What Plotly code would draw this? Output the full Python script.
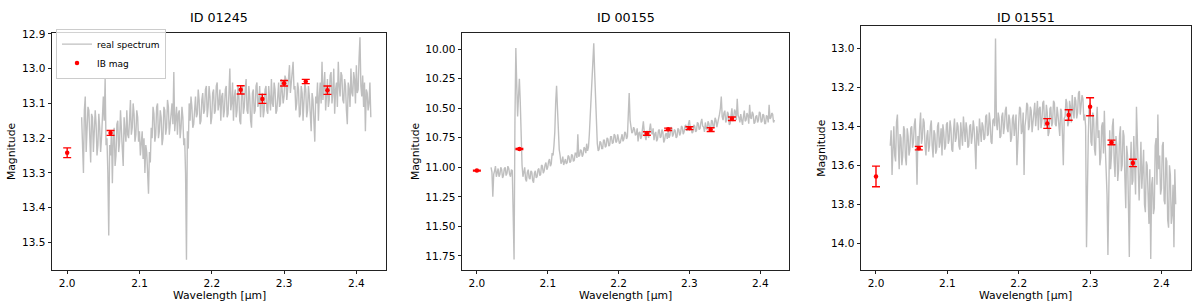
import plotly.graph_objects as go

# ---------------- data ----------------
wavelength_um = [
    2.02000, 2.02125, 2.02250, 2.02375, 2.02500, 2.02625, 2.02750, 2.02875, 2.03000, 2.03125,
    2.03250, 2.03375, 2.03500, 2.03625, 2.03750, 2.03875, 2.04000, 2.04125, 2.04250, 2.04375,
    2.04500, 2.04625, 2.04750, 2.04875, 2.05000, 2.05125, 2.05250, 2.05375, 2.05500, 2.05625,
    2.05750, 2.05875, 2.06000, 2.06125, 2.06250, 2.06375, 2.06500, 2.06625, 2.06750, 2.06875,
    2.07000, 2.07125, 2.07250, 2.07375, 2.07500, 2.07625, 2.07750, 2.07875, 2.08000, 2.08125,
    2.08250, 2.08375, 2.08500, 2.08625, 2.08750, 2.08875, 2.09000, 2.09125, 2.09250, 2.09375,
    2.09500, 2.09625, 2.09750, 2.09875, 2.10000, 2.10125, 2.10250, 2.10375, 2.10500, 2.10625,
    2.10750, 2.10875, 2.11000, 2.11125, 2.11250, 2.11375, 2.11500, 2.11625, 2.11750, 2.11875,
    2.12000, 2.12125, 2.12250, 2.12375, 2.12500, 2.12625, 2.12750, 2.12875, 2.13000, 2.13125,
    2.13250, 2.13375, 2.13500, 2.13625, 2.13750, 2.13875, 2.14000, 2.14125, 2.14250, 2.14375,
    2.14500, 2.14625, 2.14750, 2.14875, 2.15000, 2.15125, 2.15250, 2.15375, 2.15500, 2.15625,
    2.15750, 2.15875, 2.16000, 2.16125, 2.16250, 2.16375, 2.16500, 2.16625, 2.16750, 2.16875,
    2.17000, 2.17125, 2.17250, 2.17375, 2.17500, 2.17625, 2.17750, 2.17875, 2.18000, 2.18125,
    2.18250, 2.18375, 2.18500, 2.18625, 2.18750, 2.18875, 2.19000, 2.19125, 2.19250, 2.19375,
    2.19500, 2.19625, 2.19750, 2.19875, 2.20000, 2.20125, 2.20250, 2.20375, 2.20500, 2.20625,
    2.20750, 2.20875, 2.21000, 2.21125, 2.21250, 2.21375, 2.21500, 2.21625, 2.21750, 2.21875,
    2.22000, 2.22125, 2.22250, 2.22375, 2.22500, 2.22625, 2.22750, 2.22875, 2.23000, 2.23125,
    2.23250, 2.23375, 2.23500, 2.23625, 2.23750, 2.23875, 2.24000, 2.24125, 2.24250, 2.24375,
    2.24500, 2.24625, 2.24750, 2.24875, 2.25000, 2.25125, 2.25250, 2.25375, 2.25500, 2.25625,
    2.25750, 2.25875, 2.26000, 2.26125, 2.26250, 2.26375, 2.26500, 2.26625, 2.26750, 2.26875,
    2.27000, 2.27125, 2.27250, 2.27375, 2.27500, 2.27625, 2.27750, 2.27875, 2.28000, 2.28125,
    2.28250, 2.28375, 2.28500, 2.28625, 2.28750, 2.28875, 2.29000, 2.29125, 2.29250, 2.29375,
    2.29500, 2.29625, 2.29750, 2.29875, 2.30000, 2.30125, 2.30250, 2.30375, 2.30500, 2.30625,
    2.30750, 2.30875, 2.31000, 2.31125, 2.31250, 2.31375, 2.31500, 2.31625, 2.31750, 2.31875,
    2.32000, 2.32125, 2.32250, 2.32375, 2.32500, 2.32625, 2.32750, 2.32875, 2.33000, 2.33125,
    2.33250, 2.33375, 2.33500, 2.33625, 2.33750, 2.33875, 2.34000, 2.34125, 2.34250, 2.34375,
    2.34500, 2.34625, 2.34750, 2.34875, 2.35000, 2.35125, 2.35250, 2.35375, 2.35500, 2.35625,
    2.35750, 2.35875, 2.36000, 2.36125, 2.36250, 2.36375, 2.36500, 2.36625, 2.36750, 2.36875,
    2.37000, 2.37125, 2.37250, 2.37375, 2.37500, 2.37625, 2.37750, 2.37875, 2.38000, 2.38125,
    2.38250, 2.38375, 2.38500, 2.38625, 2.38750, 2.38875, 2.39000, 2.39125, 2.39250, 2.39375,
    2.39500, 2.39625, 2.39750, 2.39875, 2.40000, 2.40125, 2.40250, 2.40375, 2.40500, 2.40625,
    2.40750, 2.40875, 2.41000, 2.41125, 2.41250, 2.41375, 2.41500, 2.41625, 2.41750, 2.41875,
    2.42000,
]

spec_01245 = [
    13.14, 13.22, 13.30, 13.12, 13.08, 13.24, 13.18, 13.11, 13.12, 13.20,
    13.27, 13.13, 13.14, 13.24, 13.19, 13.12, 13.16, 13.25, 13.22, 13.13,
    13.17, 13.24, 13.20, 13.11, 13.08, 13.15, 13.03, 13.22, 13.20, 13.30,
    13.48, 13.22, 13.25, 13.18, 13.33, 13.20, 13.17, 13.28, 13.25, 13.16,
    13.15, 13.24, 13.21, 13.12, 13.16, 13.23, 13.28, 13.14, 13.18, 13.21,
    13.12, 13.19, 13.20, 13.11, 13.09, 13.19, 13.17, 13.10, 13.13, 13.21,
    13.19, 13.12, 13.14, 13.21, 13.18, 13.25, 13.22, 13.18, 13.26, 13.20,
    13.30, 13.22, 13.24, 13.32, 13.36, 13.24, 13.27, 13.17, 13.20, 13.11,
    13.13, 13.21, 13.19, 13.11, 13.10, 13.20, 13.18, 13.12, 13.14, 13.22,
    13.20, 13.11, 13.12, 13.19, 13.17, 13.09, 13.11, 13.19, 13.16, 13.12,
    13.10, 13.16, 13.01, 13.18, 13.15, 13.11, 13.19, 13.13, 13.12, 13.20,
    13.17, 13.11, 13.14, 13.22, 13.20, 13.30, 13.55, 13.18, 13.23, 13.10,
    13.15, 13.08, 13.11, 13.17, 13.16, 13.10, 13.08, 13.14, 13.13, 13.06,
    13.09, 13.16, 13.15, 13.09, 13.07, 13.13, 13.12, 13.06, 13.05, 13.14,
    13.11, 13.05, 13.08, 13.16, 13.14, 13.07, 13.06, 13.13, 13.12, 13.05,
    13.04, 13.12, 13.10, 13.06, 13.15, 13.08, 13.07, 13.14, 13.12, 13.06,
    13.05, 13.14, 13.13, 13.07, 13.00, 13.12, 13.10, 13.04, 13.15, 13.08,
    13.06, 13.14, 13.12, 13.05, 13.08, 13.15, 13.16, 13.07, 13.05, 13.13,
    13.11, 13.06, 13.03, 13.12, 13.13, 13.05, 13.08, 13.15, 13.17, 13.07,
    13.06, 13.13, 13.12, 13.05, 13.04, 13.11, 13.10, 13.05, 13.14, 13.08,
    13.07, 13.14, 13.12, 13.06, 13.05, 13.12, 13.13, 13.05, 13.08, 13.12,
    13.03, 13.10, 13.11, 13.04, 13.06, 13.13, 13.12, 13.06, 13.04, 13.11,
    13.10, 13.03, 13.06, 13.10, 13.08, 13.02, 13.03, 13.09, 13.06, 13.02,
    12.99, 13.07, 13.04, 13.00, 12.98, 13.06, 13.05, 13.12, 13.10, 13.04,
    13.06, 13.14, 13.13, 13.05, 13.07, 13.15, 13.11, 13.04, 13.06, 13.14,
    13.12, 13.05, 13.08, 13.13, 13.18, 13.07, 13.09, 13.15, 13.21, 13.08,
    13.10, 13.04, 13.15, 13.08, 13.04, 13.10, 12.98, 13.09, 13.06, 13.01,
    13.12, 13.05, 13.03, 13.11, 13.09, 13.02, 13.01, 13.10, 13.07, 13.00,
    13.13, 13.06, 13.04, 13.11, 12.98, 13.05, 13.08, 13.01, 13.02, 13.09,
    13.10, 13.03, 13.05, 13.12, 13.16, 13.04, 13.06, 13.11, 13.00, 13.07,
    13.08, 13.01, 13.03, 13.10, 12.99, 13.07, 13.06, 12.97, 12.91, 13.05,
    13.08, 13.02, 13.11, 13.04, 13.18, 13.06, 13.07, 13.12, 13.10, 13.04,
    13.14,
]

spec_00155 = [
    11.00, 11.04, 11.25, 11.06, 11.03, 10.99, 11.08, 11.02, 11.01, 11.08,
    11.06, 11.00, 11.02, 11.09, 11.07, 11.01, 11.00, 11.07, 11.05, 10.99,
    11.01, 11.06, 11.08, 11.02, 11.03, 11.40, 11.78, 10.60, 9.99, 10.30,
    10.57, 10.40, 10.25, 10.45, 10.75, 10.98, 11.08, 11.03, 11.00, 11.10,
    11.12, 11.04, 11.02, 11.09, 11.10, 11.03, 11.04, 11.11, 11.13, 11.05,
    11.03, 11.09, 11.08, 11.02, 11.01, 11.07, 11.06, 10.98, 10.99, 11.05,
    11.03, 10.98, 10.96, 11.02, 11.00, 10.95, 10.93, 10.99, 10.97, 10.88,
    10.90, 10.82, 10.70, 10.45, 10.31, 10.50, 10.70, 10.85, 10.90, 10.97,
    10.95, 10.91, 10.98, 10.94, 10.93, 10.97, 10.96, 10.90, 10.91, 10.96,
    10.95, 10.89, 10.90, 10.95, 10.94, 10.88, 10.88, 10.92, 10.72, 10.91,
    10.90, 10.85, 10.86, 10.91, 10.89, 10.83, 10.84, 10.88, 10.80, 10.86,
    10.83, 10.72, 10.55, 10.42, 10.30, 10.10, 9.95, 10.20, 10.40, 10.65,
    10.80, 10.86, 10.85, 10.78, 10.79, 10.84, 10.84, 10.77, 10.77, 10.83,
    10.82, 10.75, 10.76, 10.82, 10.81, 10.74, 10.74, 10.80, 10.79, 10.72,
    10.73, 10.79, 10.78, 10.72, 10.75, 10.80, 10.79, 10.73, 10.72, 10.78,
    10.76, 10.70, 10.71, 10.76, 10.74, 10.55, 10.37, 10.60, 10.66, 10.71,
    10.70, 10.66, 10.68, 10.73, 10.72, 10.67, 10.78, 10.71, 10.70, 10.76,
    10.74, 10.66, 10.61, 10.70, 10.73, 10.77, 10.69, 10.74, 10.75, 10.68,
    10.63, 10.70, 10.72, 10.67, 10.77, 10.72, 10.70, 10.78, 10.76, 10.69,
    10.68, 10.75, 10.74, 10.68, 10.70, 10.79, 10.77, 10.72, 10.71, 10.76,
    10.69, 10.75, 10.73, 10.66, 10.67, 10.74, 10.72, 10.68, 10.69, 10.75,
    10.74, 10.67, 10.68, 10.73, 10.71, 10.65, 10.66, 10.72, 10.70, 10.65,
    10.64, 10.69, 10.68, 10.63, 10.60, 10.67, 10.66, 10.71, 10.70, 10.64,
    10.65, 10.70, 10.69, 10.62, 10.63, 10.68, 10.67, 10.62, 10.59, 10.65,
    10.66, 10.70, 10.62, 10.67, 10.68, 10.61, 10.63, 10.69, 10.67, 10.60,
    10.61, 10.67, 10.65, 10.58, 10.60, 10.66, 10.63, 10.59, 10.55, 10.50,
    10.40, 10.57, 10.60, 10.54, 10.52, 10.62, 10.60, 10.53, 10.55, 10.64,
    10.63, 10.56, 10.50, 10.61, 10.58, 10.51, 10.53, 10.60, 10.42, 10.56,
    10.58, 10.62, 10.55, 10.60, 10.64, 10.57, 10.52, 10.61, 10.60, 10.54,
    10.56, 10.63, 10.47, 10.58, 10.59, 10.53, 10.55, 10.63, 10.62, 10.57,
    10.56, 10.62, 10.60, 10.53, 10.54, 10.62, 10.61, 10.55, 10.56, 10.63,
    10.63, 10.56, 10.57, 10.62, 10.47, 10.59, 10.58, 10.54, 10.55, 10.62,
    10.60,
]

spec_01551 = [
    13.50, 13.42, 13.65, 13.45, 13.40, 13.55, 13.58, 13.38, 13.34, 13.50,
    13.62, 13.44, 13.46, 13.60, 13.55, 13.40, 13.42, 13.56, 13.60, 13.41,
    13.45, 13.55, 13.52, 13.41, 13.40, 13.51, 13.48, 13.39, 13.36, 13.50,
    13.70, 13.45, 13.52, 13.40, 13.33, 13.49, 13.46, 13.36, 13.38, 13.50,
    13.55, 13.45, 13.42, 13.53, 13.50, 13.40, 13.37, 13.50, 13.56, 13.42,
    13.44, 13.54, 13.52, 13.40, 13.38, 13.51, 13.48, 13.41, 13.55, 13.39,
    13.43, 13.52, 13.50, 13.39, 13.38, 13.49, 13.47, 13.37, 13.41, 13.52,
    13.53, 13.42, 13.36, 13.48, 13.46, 13.38, 13.40, 13.50, 13.52, 13.38,
    13.44, 13.50, 13.35, 13.46, 13.48, 13.38, 13.42, 13.51, 13.50, 13.40,
    13.39, 13.49, 13.45, 13.37, 13.41, 13.50, 13.62, 13.40, 13.44, 13.50,
    13.36, 13.44, 13.48, 13.38, 13.40, 13.47, 13.46, 13.35, 13.34, 13.45,
    13.44, 13.33, 13.38, 13.48, 13.49, 13.37, 13.36, 13.40, 12.95, 13.38,
    13.42, 13.33, 13.36, 13.46, 13.45, 13.35, 13.33, 13.44, 13.40, 13.32,
    13.30, 13.41, 13.43, 13.34, 13.37, 13.48, 13.46, 13.36, 13.34, 13.45,
    13.41, 13.34, 13.60, 13.42, 13.38, 13.30, 13.31, 13.44, 13.42, 13.33,
    13.65, 13.40, 13.36, 13.28, 13.29, 13.42, 13.40, 13.30, 13.32, 13.43,
    13.38, 13.30, 13.28, 13.40, 13.35, 13.27, 13.42, 13.31, 13.30, 13.41,
    13.37, 13.28, 13.27, 13.40, 13.39, 13.29, 13.33, 13.45, 13.43, 13.31,
    13.30, 13.40, 13.38, 13.27, 13.28, 13.39, 13.40, 13.30, 13.34, 13.42,
    13.45, 13.31, 13.32, 13.44, 13.60, 13.36, 13.35, 13.26, 13.28, 13.40,
    13.38, 13.27, 13.30, 13.38, 13.24, 13.32, 13.36, 13.25, 13.27, 13.36,
    13.33, 13.23, 13.22, 13.34, 13.30, 13.24, 13.26, 13.37, 13.34, 13.40,
    14.02, 13.60, 13.45, 13.30, 13.28, 13.48, 13.50, 13.33, 13.36, 13.52,
    13.55, 13.38, 13.30, 13.46, 13.42, 13.60, 13.56, 13.40, 13.38, 13.54,
    13.32, 13.50, 13.60, 13.75, 14.06, 13.55, 13.42, 13.62, 13.55, 13.40,
    13.36, 13.58, 13.66, 13.45, 13.50, 13.68, 13.62, 13.45, 13.40, 13.63,
    13.60, 13.42, 13.45, 13.66, 13.82, 13.50, 13.55, 13.80, 14.07, 13.62,
    13.48, 13.70, 13.68, 13.45, 13.56, 13.75, 13.30, 13.55, 13.62, 13.78,
    13.58, 13.48, 13.72, 13.55, 13.52, 13.80, 13.84, 13.58, 13.60, 13.75,
    13.90, 13.62, 14.08, 13.70, 13.66, 13.85, 13.82, 13.50, 13.46, 13.70,
    13.34, 13.62, 13.55, 13.75, 13.72, 13.50, 13.48, 13.78, 13.80, 13.56,
    13.58, 13.88, 13.92, 13.60, 13.65, 13.90, 13.85, 13.70, 14.02, 13.62,
    13.80,
]

ib_wavelength_um = [2.00, 2.06, 2.24, 2.27, 2.30, 2.33, 2.36]

ib_01245 = [13.242, 13.185, 13.061, 13.087, 13.042, 13.037, 13.062]
ib_err_01245 = [0.014, 0.007, 0.012, 0.013, 0.008, 0.006, 0.012]

ib_00155 = [11.028, 10.845, 10.714, 10.678, 10.669, 10.681, 10.589]
ib_err_00155 = [0.004, 0.004, 0.015, 0.010, 0.012, 0.016, 0.015]

ib_01551 = [13.657, 13.512, 13.386, 13.342, 13.300, 13.483, 13.588]
ib_err_01551 = [0.053, 0.009, 0.025, 0.027, 0.046, 0.012, 0.019]

panel_titles = ["ID 01245", "ID 00155", "ID 01551"]
x_tick_vals = [2.0, 2.1, 2.2, 2.3, 2.4]
y_ticks_01245 = [12.9, 13.0, 13.1, 13.2, 13.3, 13.4, 13.5]
y_ticks_00155 = [10.00, 10.25, 10.50, 10.75, 11.00, 11.25, 11.50, 11.75]
y_ticks_01551 = [13.0, 13.2, 13.4, 13.6, 13.8, 14.0]

# ---------------- figure ----------------
W, H = 1200, 307
FONT = "DejaVu Sans"
SPEC_COLOR = "#bfbfbf"
RED = "#ff0000"

panels = [
    dict(spec=spec_01245, ib=ib_01245, err=ib_err_01245, yt=y_ticks_01245, yfmt=".1f",
         xpx=(52, 386), ypx=(28.3, 269.3), yr=(13.579, 12.897)),
    dict(spec=spec_00155, ib=ib_00155, err=ib_err_00155, yt=y_ticks_00155, yfmt=".2f",
         xpx=(462, 789.3), ypx=(28.3, 269.3), yr=(11.869, 9.861)),
    dict(spec=spec_01551, ib=ib_01551, err=ib_err_01551, yt=y_ticks_01551, yfmt=".1f",
         xpx=(861, 1190.7), ypx=(21.7, 269.3), yr=(14.136, 12.888)),
]
ylabel_x_px = [11.7, 415.7, 820.7]

fig = go.Figure()
annotations = []
layout_axes = {}

for k, p in enumerate(panels):
    n = "" if k == 0 else str(k + 1)
    xa, ya = "x" + n, "y" + n
    fig.add_trace(go.Scatter(
        x=wavelength_um, y=p["spec"], mode="lines", name="real spectrum",
        line=dict(color=SPEC_COLOR, width=1.4), xaxis=xa, yaxis=ya,
        showlegend=(k == 0), hoverinfo="skip",
    ))
    fig.add_trace(go.Scatter(
        x=ib_wavelength_um, y=p["ib"], mode="markers", name="IB mag",
        marker=dict(color=RED, size=4.5),
        error_y=dict(type="data", array=p["err"], visible=True, color=RED,
                     thickness=1.4, width=4),
        xaxis=xa, yaxis=ya, showlegend=(k == 0),
    ))
    x0, x1 = p["xpx"][0] / W, p["xpx"][1] / W
    y0, y1 = (H - p["ypx"][1]) / H, (H - p["ypx"][0]) / H
    common = dict(showline=True, linecolor="#222222", linewidth=1, mirror=True,
                  ticks="outside", ticklen=3.5, tickwidth=1, tickcolor="#222222",
                  showgrid=False, zeroline=False,
                  tickfont=dict(family=FONT, size=10.5, color="black"))
    layout_axes["xaxis" + n] = dict(domain=[x0, x1], range=[1.979, 2.441],
                                    tickvals=x_tick_vals, tickformat=".1f",
                                    anchor=ya, **common)
    layout_axes["yaxis" + n] = dict(domain=[y0, y1], range=list(p["yr"]),
                                    tickvals=p["yt"], tickformat=p["yfmt"],
                                    anchor=xa, **common)
    cx = (p["xpx"][0] + p["xpx"][1]) / 2 / W
    annotations.append(dict(text=panel_titles[k], x=cx, y=(H - 12.7) / H,
                            xref="paper", yref="paper", showarrow=False,
                            xanchor="center", yanchor="middle",
                            font=dict(family=FONT, size=12.7, color="black")))
    annotations.append(dict(text="Wavelength [µm]", x=cx, y=(H - 295) / H,
                            xref="paper", yref="paper", showarrow=False,
                            xanchor="center", yanchor="middle",
                            font=dict(family=FONT, size=10.8, color="black")))
    cy = (H - (p["ypx"][0] + p["ypx"][1]) / 2) / H
    annotations.append(dict(text="Magnitude", x=ylabel_x_px[k] / W, y=cy,
                            xref="paper", yref="paper", showarrow=False,
                            textangle=-90, xanchor="center", yanchor="middle",
                            font=dict(family=FONT, size=10.8, color="black")))

fig.update_layout(
    width=W, height=H,
    margin=dict(l=0, r=0, t=0, b=0),
    paper_bgcolor="white", plot_bgcolor="white",
    font=dict(family=FONT, color="black"),
    showlegend=True,
    legend=dict(x=56 / W, y=(H - 24) / H, xanchor="left", yanchor="top",
                bgcolor="rgba(255,255,255,0.8)", bordercolor="#cccccc",
                borderwidth=1, font=dict(family=FONT, size=9, color="black"),
                itemwidth=30, tracegroupgap=0),
    annotations=annotations,
    **layout_axes,
)

fig.write_html(
    "out.html",
    config={"displayModeBar": False},
    post_script="document.body.style.margin='0';document.body.style.padding='0';"
                "document.body.style.overflow='hidden';",
)
